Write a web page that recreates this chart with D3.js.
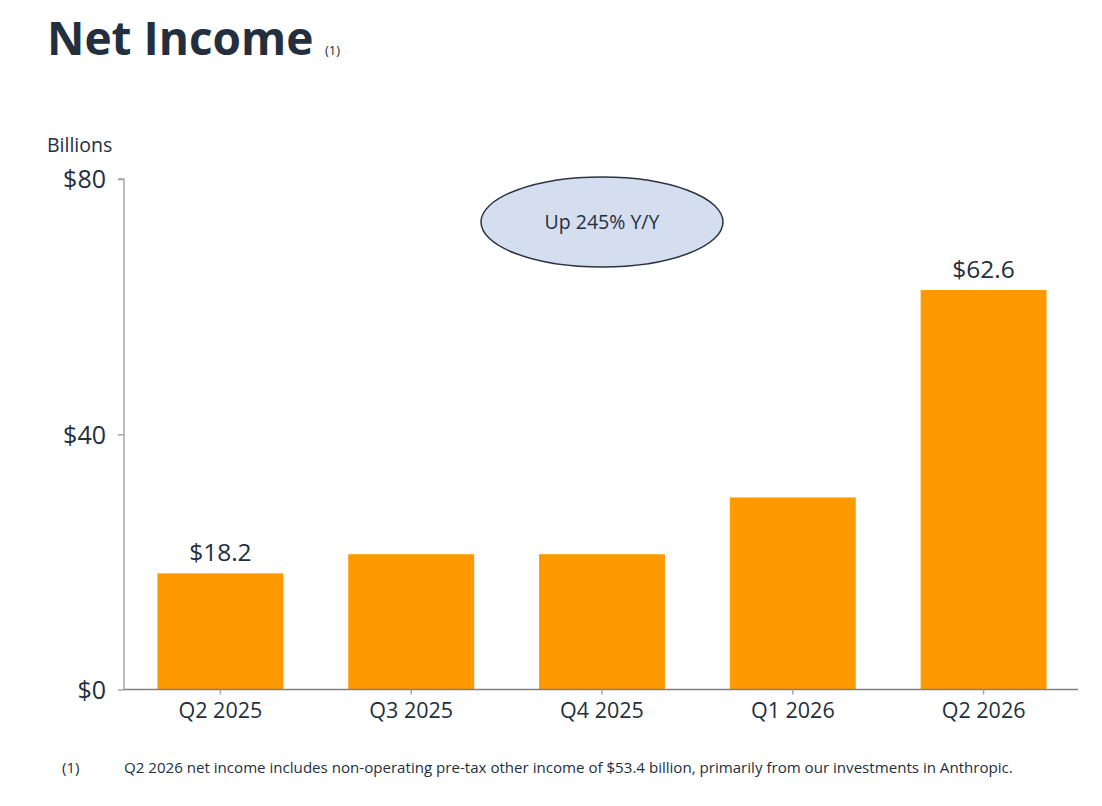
<!DOCTYPE html>
<html><head><meta charset="utf-8">
<script src="https://cdn.jsdelivr.net/npm/d3@7/dist/d3.min.js"></script>
<style>
html,body{margin:0;padding:0;background:#fff;}
svg{display:block;font-family:"Open Sans","Noto Sans",sans-serif;}
</style></head>
<body>
<svg id="chart" width="1102" height="806"></svg>
<script>
const categories = ["Q2 2025","Q3 2025","Q4 2025","Q1 2026","Q2 2026"];
const values = [18.2, 21.2, 21.2, 30.1, 62.6];
const valueLabels = ["$18.2", null, null, null, "$62.6"];
const yTicks = [0, 40, 80];
const yTickLabels = ["$0","$40","$80"];

const svg = d3.select("#chart");
const ink = "#232f3e";

const x = d3.scaleBand().domain(categories).range([125, 1079]).paddingInner(0.34).paddingOuter(0.17);
const y = d3.scaleLinear().domain([0, 80]).range([689.5, 179]);

// title
svg.append("text").attr("x", 47).attr("y", 55).attr("fill", ink)
  .style("font-size", "46px").style("font-weight", "700").text("Net Income");
svg.append("text").attr("x", 325).attr("y", 55).attr("fill", ink)
  .style("font-size", "13px").text("(1)");

svg.append("text").attr("x", 47).attr("y", 152).attr("fill", ink)
  .style("font-size", "19.5px").text("Billions");

// bars
svg.append("g").selectAll("rect").data(categories).join("rect")
  .attr("x", d => x(d)).attr("width", x.bandwidth())
  .attr("y", (d, i) => y(values[i])).attr("height", (d, i) => y(0) - y(values[i]))
  .attr("fill", "#ff9900");

// y axis
const yAxis = d3.axisLeft(y).tickValues(yTicks).tickFormat((d, i) => yTickLabels[i]).tickSize(6).tickPadding(12);
const gy = svg.append("g").attr("transform", "translate(124,0)").call(yAxis);
gy.select(".domain").attr("stroke", "#a6a6a6").attr("stroke-width", 1.5).attr("d", "M-6,179H0V689.5");
gy.selectAll(".tick line").attr("stroke", "#a6a6a6").attr("stroke-width", 1.5);
gy.selectAll(".tick text").attr("fill", ink).style("font-size", "25px").style("font-family", "'Open Sans','Noto Sans',sans-serif").attr("dy", "0.35em");

// x axis
const xAxis = d3.axisBottom(x).tickSize(5).tickPadding(8);
const gx = svg.append("g").attr("transform", "translate(0,689.5)").call(xAxis);
gx.select(".domain").attr("stroke", "#7f7f7f").attr("stroke-width", 1.5).attr("d", "M124,0H1078");
gx.selectAll(".tick line").attr("stroke", "#a6a6a6").attr("stroke-width", 1.5);
gx.selectAll(".tick text").attr("fill", ink).style("font-size", "21.5px").style("font-family", "'Open Sans','Noto Sans',sans-serif");

// value labels
svg.append("g").selectAll("text").data(categories.filter((d, i) => valueLabels[i])).join("text")
  .attr("x", d => x(d) + x.bandwidth() / 2)
  .attr("y", d => y(values[categories.indexOf(d)]) - 12)
  .attr("text-anchor", "middle").attr("fill", ink).style("font-size", "24.5px")
  .text(d => valueLabels[categories.indexOf(d)]);

// ellipse callout
svg.append("ellipse").attr("cx", 602).attr("cy", 222).attr("rx", 121).attr("ry", 45)
  .attr("fill", "#d5deef").attr("stroke", "#2b3442").attr("stroke-width", 1.5);
svg.append("text").attr("x", 602).attr("y", 222).attr("dy", "0.35em").attr("text-anchor", "middle")
  .attr("fill", ink).style("font-size", "19.5px").text("Up 245% Y/Y");

// footnote
svg.append("text").attr("x", 62).attr("y", 773).attr("fill", ink).style("font-size", "15px").text("(1)");
svg.append("text").attr("x", 124).attr("y", 773).attr("fill", ink).style("font-size", "15.1px")
  .text("Q2 2026 net income includes non-operating pre-tax other income of $53.4 billion, primarily from our investments in Anthropic.");
</script>
</body></html>
